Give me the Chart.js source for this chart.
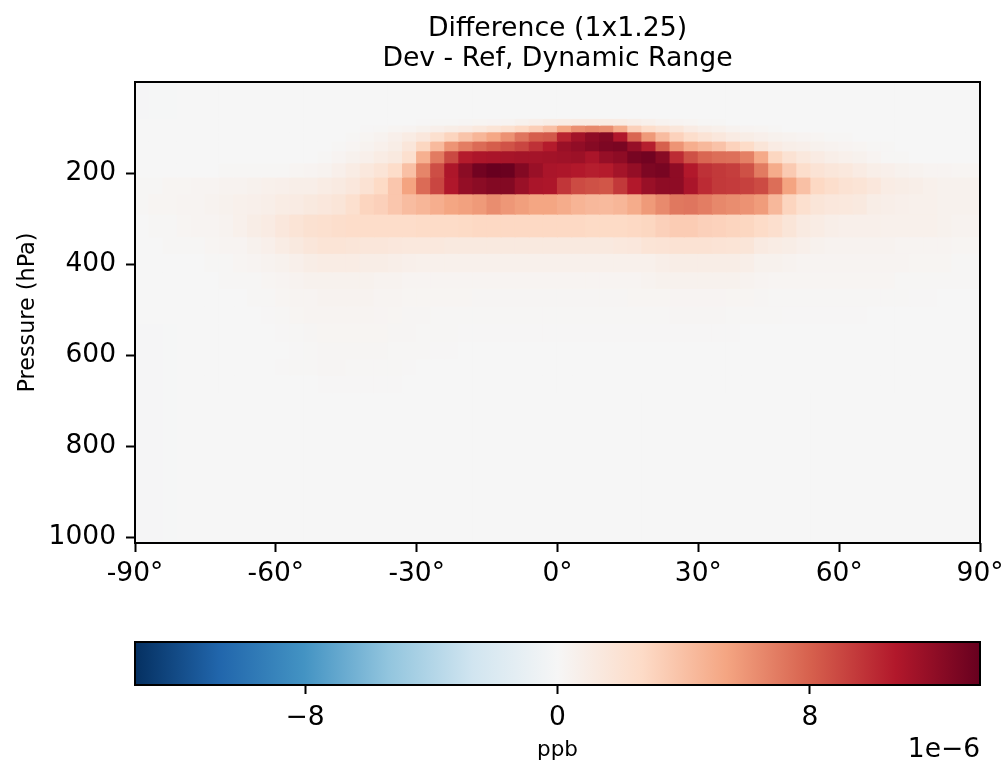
<!DOCTYPE html>
<html>
<head>
<meta charset="utf-8">
<title>Difference (1x1.25)</title>
<script src="https://cdn.jsdelivr.net/npm/chart.js@4/dist/chart.umd.min.js"></script>
<style>
  html, body { margin: 0; padding: 0; background: #fff; }
  #wrap { position: relative; width: 1006px; height: 765px; overflow: hidden; }
  canvas { position: absolute; left: 0; display: block; }
</style>
</head>
<body>
<div id="wrap">
  <canvas id="zonalChart" width="1016" height="600" style="top:0"></canvas>
  <canvas id="colorbar" width="1006" height="165" style="top:600px"></canvas>
</div>
<script>
// latitude of each column, degrees
const latitudes = [
  -88.5,-85.5,-82.5,-79.5,-76.5,-73.5,-70.5,-67.5,-64.5,-61.5,
  -58.5,-55.5,-52.5,-49.5,-46.5,-43.5,-40.5,-37.5,-34.5,-31.5,
  -28.5,-25.5,-22.5,-19.5,-16.5,-13.5,-10.5,-7.5,-4.5,-1.5,
  1.5,4.5,7.5,10.5,13.5,16.5,19.5,22.5,25.5,28.5,
  31.5,34.5,37.5,40.5,43.5,46.5,49.5,52.5,55.5,58.5,
  61.5,64.5,67.5,70.5,73.5,76.5,79.5,82.5,85.5,88.5
];
// pressure edges of each row, hPa
const pressureEdges = [0,79.7,94.5,109.2,129.6,150.9,177.3,208.7,245.4,290,339.9,376.3,416.7,453.2,492.1,530,570.5,608.5,643.7,683.2,1013];
const pressureTicks = [200,400,600,800,1000];
const colorbarTicks = [-8,0,8];
const colorLimit = 13.39; // in units of 1e-6 ppb

// difference per row, top to bottom, units of 1e-6 ppb
const row01 = [-.1,-.05,-.05,0,0,0,0,0,0,0, 0,0,0,0,0,0,0,0,0,0, 0,0,0,0,0,0,0,0,0,0, 0,0,0,0,0,0,0,0,0,0, 0,0,0,0,0,0,0,0,0,0, 0,0,0,0,0,0,0,0,0,0];
const row02 = [0,0,0,0,0,0,0,0,0,0, 0,0,0,0,0,0,0,0,0,0,
  .05,.1,.1,.15,.2,.25,.3,.5,.7,.9,
  1,1.1,1.1,1.1,1,.8,.6,.4,.3,.2,
  .1,.1,0,0,0,0,0,0,0,0, 0,0,0,0,0,0,0,0,0,0];
const row03 = [0,0,0,0,0,0,0,0,0,0,
  0,0,0,0,0,0,.05,.1,.2,.3,
  .5,.7,.9,1.1,1.4,1.8,2.2,2.8,3.3,4,
  5.3,6.2,6.5,6.3,5,3.2,2.5,2,1.6,1.1,
  .8,.6,.4,.3,.2,.1,0,0,0,0,
  0,0,0,0,0,0,0,0,0,0];
const row04 = [0,0,0,0,0,0,0,0,0,0,
  0,0,0,0,0,.1,.2,.4,.7,1,
  1.5,2.2,3,3.8,4.5,5.2,6.1,7.2,8.1,8.3,
  10.3,11.3,12,12.4,10.8,7.8,5.8,4.2,3.1,2.4,
  1.9,1.5,1.1,.9,.7,.5,.4,.3,.2,.1,
  .1,0,0,0,0,0,0,0,0,0];
const row05 = [0,0,0,0,0,0,0,0,0,0,
  0,0,0,0,.1,.2,.4,.6,.9,1.6,
  2.9,4.3,6,6.9,7.6,8.1,8.5,9,9.8,10.6,
  11.6,11.9,12.3,12.6,12.7,11.7,10.5,8,6,4.9,
  4.4,3.9,3.1,2.6,1.7,1.1,.8,.7,.5,.4,
  .3,.2,.1,.1,0,0,0,0,0,0];
const row06 = [0,0,0,0,0,0,0,0,0,0,
  0,0,0,.1,.3,.5,.7,1,1.3,2.2,
  4.8,7,8.9,10.6,10.9,11,11.1,11.2,11.2,11.3,
  11.4,11.5,11,11.7,12,12.8,13,12.2,10,8.6,
  7.8,7.5,7.4,6.8,5.1,2.9,2,1.4,1.1,.8,
  .6,.5,.3,.1,.1,0,0,0,0,0];
const row07 = [0,0,0,0,0,0,.1,.1,.1,.1,
  .1,.2,.3,.4,.7,1,1.4,1.8,2.5,4,
  6.6,8.7,10.9,12.1,13,13.35,13.3,12.4,11.6,11,
  10.9,10.7,10.5,10.6,11.2,11.8,12.6,12.8,12,10.7,
  9.8,9.5,9.3,8.6,7,5,3.5,2.4,1.9,1.6,
  1.4,1.1,.8,.7,.5,.4,.3,.3,.2,.2];
const row08 = [.1,.1,.2,.2,.3,.3,.4,.4,.5,.6,
  .7,.8,.8,1,1.2,1.5,2,2.7,3.7,5.4,
  7.6,9,10.8,11.8,12.1,12.4,12.4,11.6,11,10.9,
  9.6,8.8,8.6,8.4,9.5,10.7,11.6,12,12,11,
  10,9.5,9.4,9.2,8.8,7.5,5.4,4,2.8,2.4,
  2,1.8,1.5,1,.9,.8,.6,.5,.5,.5];
const row09 = [.1,.2,.2,.3,.3,.4,.5,.6,.7,.8,
  1,1.1,1.3,1.5,1.7,2.2,3,3.2,3.7,4.2,
  4.5,4.9,5.3,5.5,5.8,6.3,5.9,5.6,5.3,5.3,
  5,4.6,4.4,4.3,4.5,5,5.8,6.4,7.1,7.2,
  6.9,6.5,6.3,6.1,5.7,4.4,3,2.2,1.7,1.5,
  1.4,1.3,.9,.8,.7,.6,.6,.5,.5,.5];
const row10 = [0,.1,.1,.2,.3,.3,.4,.6,.9,1.1,
  1.5,1.8,2.1,2.2,2.4,2.5,2.5,2.5,2.5,2.5,
  2.6,2.6,2.6,2.7,2.8,2.8,2.8,2.8,2.8,2.8,
  2.8,2.8,2.7,2.7,2.7,2.8,2.9,3.2,3.4,3.4,
  3.2,3.1,3,2.9,2.6,2.3,1.7,1.2,1,.8,
  .7,.7,.7,.6,.6,.6,.6,.5,.4,.4];
const row11 = [0,0,.1,.1,.1,.2,.3,.3,.5,.7,
  1,1.3,1.6,1.8,1.8,1.7,1.6,1.6,1.5,1.4,
  1.4,1.4,1.3,1.3,1.3,1.3,1.3,1.3,1.3,1.3,
  1.3,1.3,1.3,1.3,1.4,1.5,1.8,1.9,2,2,
  2,1.9,1.8,1.7,1.2,1,.9,.7,.5,.4,
  .4,.4,.4,.4,.3,.3,.3,.3,.2,.2];
const row12 = [0,0,0,0,0,.1,.1,.2,.3,.4,
  .5,.7,.9,1,1,1,.9,.9,.8,.7,
  .6,.6,.6,.6,.6,.6,.6,.6,.6,.6,
  .6,.6,.6,.6,.6,.6,.6,.8,.9,.9,
  .9,.9,.9,.8,.5,.5,.4,.3,.3,.3,
  .3,.3,.3,.3,.3,.2,.2,.2,.1,.1];
const row13 = [0,0,0,0,0,0,.1,.1,.1,.2,
  .3,.4,.5,.5,.5,.5,.5,.4,.4,.3,
  .3,.3,.3,.3,.3,.3,.3,.3,.3,.3,
  .3,.3,.3,.3,.3,.3,.4,.5,.5,.5,
  .5,.5,.5,.4,.3,.2,.2,.2,.2,.2,
  .2,.2,.2,.2,.1,.1,.1,.1,.1,.1];
const row14 = [0,0,0,0,0,0,0,0,.1,.1,
  .2,.3,.3,.4,.4,.4,.4,.3,.3,.2,
  .2,.2,.2,.2,.15,.15,.15,.15,.15,.15,
  .15,.15,.15,.15,.15,.2,.2,.2,.25,.25,
  .25,.25,.2,.2,.15,.1,.1,.1,.1,.1,
  .1,.1,.1,.1,.1,.05,.05,0,0,0];
const row15 = [0,0,0,0,0,0,0,0,0,.05,
  .1,.2,.3,.3,.3,.3,.3,.25,.2,.15,
  .15,.1,.1,.1,.1,.1,.1,.1,.1,.1,
  .1,.1,.1,.1,.1,.1,.1,.1,.15,.15,
  .15,.15,.1,.1,.1,.1,.05,.05,.05,.05,
  .05,.05,0,0,0,0,0,0,0,0];
const row16 = [-.1,-.1,-.05,0,0,0,0,0,0,0,
  .05,.1,.15,.2,.2,.2,.2,.2,.15,.15,
  .1,.1,.1,.05,.05,.05,.05,.05,.05,.05,
  .05,.05,.05,.05,.05,.05,.05,.05,.05,.05,
  .05,.05,.05,0,0,0,0,0,0,0,
  0,0,0,0,0,0,0,0,0,0];
const row17 = [-.1,-.1,-.05,0,0,0,0,0,0,0,
  0,.05,.1,.15,.15,.15,.15,.15,.1,.1,
  .1,.05,.05,0,0,0,0,0,0,0,
  0,0,0,0,0,0,0,0,0,0,
  0,0,0,0,0,0,0,0,0,0,
  0,0,0,0,0,0,0,0,0,0];
const row18 = [-.1,-.1,-.05,0,0,0,0,0,0,0,
  .05,.1,.1,.15,.15,.1,.1,.1,.1,.05,
  0,0,0,0,0,0,0,0,0,0,
  0,0,0,0,0,0,0,0,0,0,
  0,0,0,0,0,0,0,0,0,0,
  0,0,0,0,0,0,0,0,0,0];
const row19 = [-.1,-.1,-.05,0,0,0,0,0,0,0,
  0,0,0,.05,.08,.08,.08,.05,.05,0,
  0,0,0,0,0,0,0,0,0,0,
  0,0,0,0,0,0,0,0,0,0,
  0,0,0,0,0,0,0,0,0,0,
  0,0,0,0,0,0,0,0,0,0];
const row20 = [-.1,-.1,-.05,0,0,0,0,0,0,0,
  0,0,0,0,0,0,0,0,0,0,
  0,0,0,0,0,0,0,0,0,0,
  0,0,0,0,0,0,0,0,0,0,
  0,0,0,0,0,0,0,0,0,0,
  0,0,0,0,0,0,0,0,0,0];
const rows = [row01,row02,row03,row04,row05,row06,row07,row08,row09,row10,
  row11,row12,row13,row14,row15,row16,row17,row18,row19,row20];

// RdBu_r stops
const rdbuStops = ["#053061","#2166ac","#4393c3","#92c5de","#d1e5f0","#f6f6f6","#fddbc7","#f4a582","#d6604d","#b2182b","#67001f"];

function hexToRgb(h) {
  return [1, 3, 5].map(i => parseInt(h.slice(i, i + 2), 16));
}

function valueColor(v) {
  const t = Math.min(1, Math.max(0, (v + colorLimit) / (2 * colorLimit))) * (rdbuStops.length - 1);
  const i = Math.min(rdbuStops.length - 2, Math.floor(t));
  const a = hexToRgb(rdbuStops[i]), b = hexToRgb(rdbuStops[i + 1]);
  const c = a.map((x, k) => Math.round(x + (b[k] - x) * (t - i)));
  return `rgb(${c[0]},${c[1]},${c[2]})`;
}

Chart.defaults.font.family = '"DejaVu Sans", sans-serif';
Chart.defaults.color = "#000";
Chart.defaults.animation = false;

const frame = {
  id: "frame",
  afterDraw(chart) {
    const { ctx, chartArea: a } = chart;
    ctx.save();
    ctx.strokeStyle = "#000";
    ctx.lineWidth = 2;
    ctx.strokeRect(a.left, a.top, a.right - a.left, a.bottom - a.top);
    ctx.restore();
  }
};

const axisGrid = { drawOnChartArea: false, drawTicks: true, tickLength: 9, tickWidth: 2, tickColor: "#000" };

new Chart(document.getElementById("zonalChart"), {
  type: "bar",
  data: {
    datasets: rows.map((row, r) => ({
      data: row.map((v, c) => ({ x: latitudes[c], y: [pressureEdges[r], pressureEdges[r + 1]] })),
      backgroundColor: row.map(valueColor),
      borderWidth: 0,
      inflateAmount: 0.6,
      grouped: false,
      barPercentage: 1,
      categoryPercentage: 1
    }))
  },
  options: {
    responsive: false,
    // canvas runs 10px past the page so the last tick label can't squeeze the plot
    layout: { autoPadding: false, padding: { left: 0, right: 36, top: 0, bottom: 0 } },
    plugins: {
      legend: { display: false },
      tooltip: { enabled: false },
      title: {
        display: true,
        fullSize: false,
        text: ["Difference (1x1.25)", "Dev - Ref, Dynamic Range"],
        font: { size: 26.7, weight: "normal", lineHeight: 30 / 26.7 },
        color: "#000",
        padding: { top: 14, bottom: 8 }
      }
    },
    scales: {
      x: {
        type: "linear",
        min: -90,
        max: 90,
        offset: false,
        grid: { ...axisGrid, offset: false },
        border: { display: false },
        afterFit(scale) { scale.height = 57; },
        ticks: {
          stepSize: 30,
          maxRotation: 0,
          autoSkip: false,
          padding: 6,
          font: { size: 26.5 },
          callback: v => `${v}°`
        }
      },
      y: {
        type: "linear",
        reverse: true,
        min: 0,
        max: 1013,
        grid: axisGrid,
        border: { display: false },
        afterBuildTicks(axis) { axis.ticks = pressureTicks.map(v => ({ value: v })); },
        afterFit(scale) { scale.width = 135; },
        title: { display: true, text: "Pressure (hPa)", font: { size: 22.3 }, padding: { top: 15, bottom: 0 } },
        ticks: { padding: 10, autoSkip: false, font: { size: 26.5 }, callback: v => String(v) }
      }
    }
  },
  plugins: [frame]
});

const offsetLabel = {
  id: "offsetLabel",
  afterDraw(chart) {
    const { ctx, chartArea: a } = chart;
    ctx.save();
    ctx.font = '26.5px "DejaVu Sans"';
    ctx.fillStyle = "#000";
    ctx.textAlign = "right";
    ctx.textBaseline = "middle";
    ctx.fillText("1e\u22126", a.right, 150);
    ctx.restore();
  }
};

new Chart(document.getElementById("colorbar"), {
  type: "bar",
  data: {
    labels: ["ppb"],
    datasets: [{
      data: [[-colorLimit, colorLimit]],
      borderWidth: 0,
      inflateAmount: 0,
      barPercentage: 1,
      categoryPercentage: 1,
      backgroundColor(context) {
        const { chart } = context;
        if (!chart.chartArea) return "#f6f6f6";
        const sx = chart.scales.x;
        const g = chart.ctx.createLinearGradient(sx.getPixelForValue(-colorLimit), 0, sx.getPixelForValue(colorLimit), 0);
        rdbuStops.forEach((c, i) => g.addColorStop(i / (rdbuStops.length - 1), c));
        return g;
      }
    }]
  },
  options: {
    indexAxis: "y",
    responsive: false,
    layout: { autoPadding: false, padding: { left: 135, right: 26, top: 42, bottom: 0 } },
    plugins: { legend: { display: false }, tooltip: { enabled: false } },
    scales: {
      x: {
        type: "linear",
        min: -colorLimit,
        max: colorLimit,
        grid: axisGrid,
        border: { display: false },
        afterBuildTicks(axis) { axis.ticks = colorbarTicks.map(v => ({ value: v })); },
        afterFit(scale) { scale.height = 80; },
        title: { display: true, text: "ppb", font: { size: 21.5 }, padding: { top: 4, bottom: 2 } },
        ticks: {
          padding: 8,
          autoSkip: false,
          maxRotation: 0,
          font: { size: 26.5 },
          callback: v => String(v).replace("-", "\u2212")
        }
      },
      y: { display: false, offset: true, grid: { offset: true } }
    }
  },
  plugins: [frame, offsetLabel]
});
</script>
</body>
</html>
